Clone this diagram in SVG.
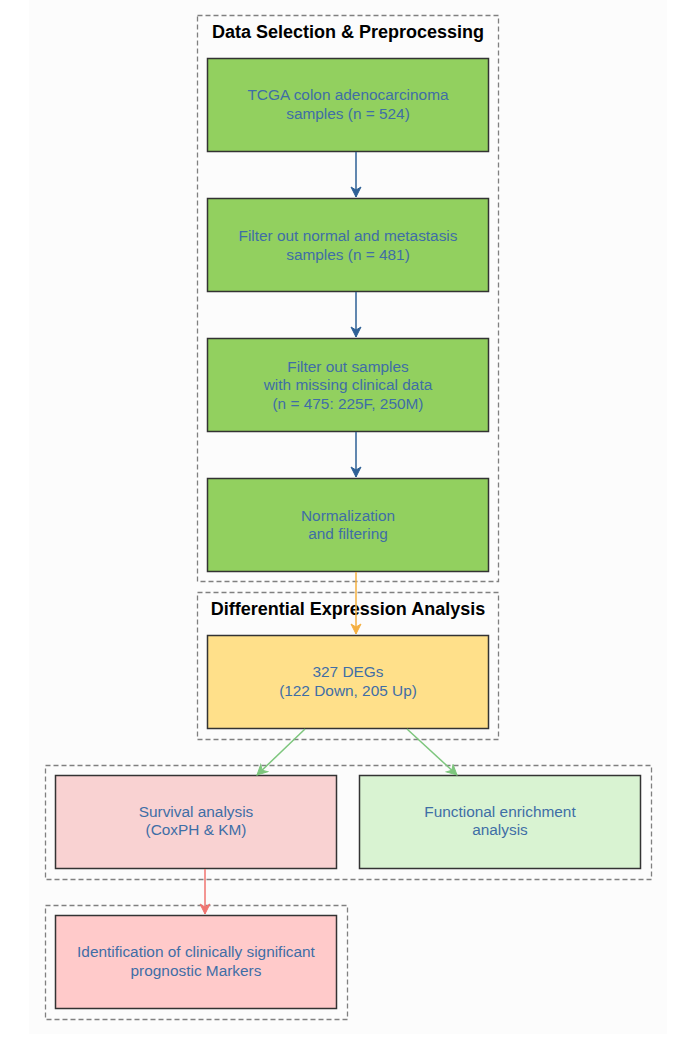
<svg xmlns="http://www.w3.org/2000/svg" width="675" height="1054" viewBox="0 0 675 1054">
<style>
.bg{fill:#fcfcfc}
.cluster{fill:none;stroke:#808080;stroke-width:1.3;stroke-dasharray:5,3}
.ctitle{font-family:"Liberation Sans",Arial,sans-serif;font-size:18px;font-weight:bold;fill:#000;text-anchor:middle}
.box{stroke:#333;stroke-width:1.5}
.lbl{font-family:"Liberation Sans",Arial,sans-serif;font-size:15.4px;fill:#3f6ea6;text-anchor:middle}
.edge{fill:none;stroke-width:1.5}
</style>
<defs>
<marker id="ab" viewBox="0 0 12 12" refX="11" refY="6" markerWidth="12" markerHeight="12" markerUnits="userSpaceOnUse" orient="auto"><path d="M1,1 L11,6 L1,11 L4,6 Z" fill="#2e6096" stroke="#2e6096" stroke-width="1"/></marker>
<marker id="ao" viewBox="0 0 12 12" refX="11" refY="6" markerWidth="12" markerHeight="12" markerUnits="userSpaceOnUse" orient="auto"><path d="M1,1 L11,6 L1,11 L4,6 Z" fill="#f5b041" stroke="#f5b041" stroke-width="1"/></marker>
<marker id="ag" viewBox="0 0 12 12" refX="11" refY="6" markerWidth="12" markerHeight="12" markerUnits="userSpaceOnUse" orient="auto"><path d="M1,1 L11,6 L1,11 L4,6 Z" fill="#7dc67d" stroke="#7dc67d" stroke-width="1"/></marker>
<marker id="ar" viewBox="0 0 12 12" refX="11" refY="6" markerWidth="12" markerHeight="12" markerUnits="userSpaceOnUse" orient="auto"><path d="M1,1 L11,6 L1,11 L4,6 Z" fill="#f07470" stroke="#f07470" stroke-width="1"/></marker>
</defs>
<rect class="bg" x="29" y="0" width="638" height="1034"/>
<g id="cluster_prep">
<rect class="cluster" x="197.5" y="15.5" width="301" height="566"/>
<text class="ctitle" x="348" y="38">Data Selection &amp; Preprocessing</text>
</g>
<g id="cluster_dea">
<rect class="cluster" x="197.5" y="592.5" width="301" height="147"/>
<text class="ctitle" x="348" y="615">Differential Expression Analysis</text>
</g>
<g id="cluster_analysis">
<rect class="cluster" x="45.5" y="765.5" width="606" height="114"/>
</g>
<g id="cluster_markers">
<rect class="cluster" x="45.5" y="905.5" width="302" height="114"/>
</g>
<g id="n1">
<rect class="box" x="207.5" y="58.5" width="281" height="93" fill="#92d05f"/>
<text class="lbl" x="348" y="100">TCGA colon adenocarcinoma</text>
<text class="lbl" x="348" y="119">samples (n = 524)</text>
</g>
<g id="n2">
<rect class="box" x="207.5" y="198.5" width="281" height="93" fill="#92d05f"/>
<text class="lbl" x="348" y="241">Filter out normal and metastasis</text>
<text class="lbl" x="348" y="260">samples (n = 481)</text>
</g>
<g id="n3">
<rect class="box" x="207.5" y="338.5" width="281" height="93" fill="#92d05f"/>
<text class="lbl" x="348" y="372">Filter out samples</text>
<text class="lbl" x="348" y="390">with missing clinical data</text>
<text class="lbl" x="348" y="409">(n = 475: 225F, 250M)</text>
</g>
<g id="n4">
<rect class="box" x="207.5" y="478.5" width="281" height="93" fill="#92d05f"/>
<text class="lbl" x="348" y="521">Normalization</text>
<text class="lbl" x="348" y="539">and filtering</text>
</g>
<g id="n5">
<rect class="box" x="207.5" y="635.5" width="281" height="93" fill="#ffe08a"/>
<text class="lbl" x="348" y="677">327 DEGs</text>
<text class="lbl" x="348" y="696">(122 Down, 205 Up)</text>
</g>
<g id="n6">
<rect class="box" x="55.5" y="775.5" width="281" height="93" fill="#f9d2d2"/>
<text class="lbl" x="196" y="817">Survival analysis</text>
<text class="lbl" x="196" y="835">(CoxPH &amp; KM)</text>
</g>
<g id="n7">
<rect class="box" x="359.5" y="775.5" width="281" height="93" fill="#d9f3d2"/>
<text class="lbl" x="500" y="817">Functional enrichment</text>
<text class="lbl" x="500" y="835">analysis</text>
</g>
<g id="n8">
<rect class="box" x="55.5" y="915.5" width="281" height="93" fill="#ffcaca"/>
<text class="lbl" x="196" y="957">Identification of clinically significant</text>
<text class="lbl" x="196" y="976">prognostic Markers</text>
</g>
<g id="edges">
<path class="edge" d="M356,152 L356,197" stroke="#2e6096" marker-end="url(#ab)"/>
<path class="edge" d="M356,292 L356,337" stroke="#2e6096" marker-end="url(#ab)"/>
<path class="edge" d="M356,432 L356,477" stroke="#2e6096" marker-end="url(#ab)"/>
<path class="edge" d="M356,572 L356,634" stroke="#f5b041" marker-end="url(#ao)"/>
<path class="edge" d="M305,729 L257,775" stroke="#7dc67d" marker-end="url(#ag)"/>
<path class="edge" d="M407,729 L457,775" stroke="#7dc67d" marker-end="url(#ag)"/>
<path class="edge" d="M205,869 L205,914" stroke="#f07470" marker-end="url(#ar)"/>
</g>
</svg>
